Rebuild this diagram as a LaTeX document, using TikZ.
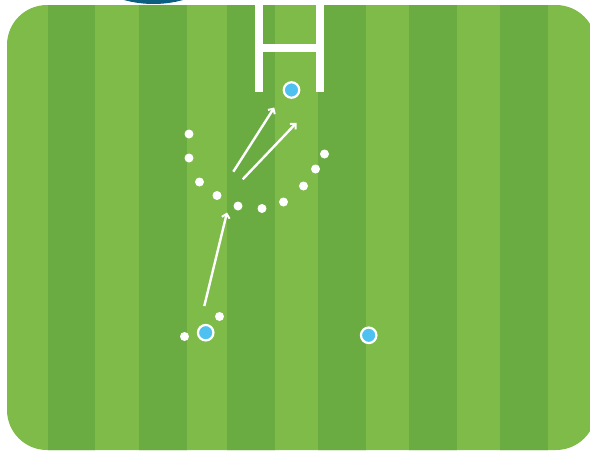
\documentclass[tikz,border=0pt]{standalone}
\usetikzlibrary{arrows.meta}
\definecolor{grasslight}{RGB}{126,187,72}
\definecolor{grassdark}{RGB}{106,172,66}
\definecolor{playerblue}{RGB}{79,193,240}
\definecolor{teal}{RGB}{10,94,128}
\tikzset{
  dotm/.style={circle,fill=white,inner sep=0pt,minimum size=9pt},
  player/.style={circle,fill=playerblue,draw=white,line width=2.2pt,inner sep=0pt,minimum size=15.5pt},
  runarrow/.style={draw=white,line width=2.4pt,-{Straight Barb[length=4pt,width=8pt,line width=2pt]}},
  post/.style={fill=white}
}
\begin{document}
\begin{tikzpicture}[x=1pt,y=-1pt]
\useasboundingbox (0,0) rectangle (590,451);
\clip (0,0) rectangle (590,451);
\fill[white] (0,0) rectangle (590,451);
% teal disc at top
\fill[teal] (153.5,-106) circle (110);
% field
\fill[grasslight,rounded corners=40pt] (7,5) rectangle (596,450);
\begin{scope}
\clip[rounded corners=40pt] (7,5) rectangle (596,450);
\foreach \a/\b in {48/95,139/187,227/275,318/366,409/457,500/548}{
  \fill[grassdark] (\a,0) rectangle (\b,451);
}
\end{scope}
% goal posts
\fill[post] (255,5) rectangle (263,92);
\fill[post] (316,5) rectangle (324,92);
\fill[post] (255,44) rectangle (324,52);
% defenders' dots
\node[dotm] (d1) at (189,134) {};
\node[dotm] (d2) at (189,158) {};
\node[dotm] (d3) at (199.5,182) {};
\node[dotm] (d4) at (217,195.5) {};
\node[dotm] (d5) at (238,206) {};
\node[dotm] (d6) at (262,208.5) {};
\node[dotm] (d7) at (283.5,202) {};
\node[dotm] (d8) at (303.5,186) {};
\node[dotm] (d9) at (315.5,169) {};
\node[dotm] (d10) at (324.5,154) {};
\node[dotm] (d11) at (219.5,316.5) {};
\node[dotm] (d12) at (184.5,336.5) {};
% players
\node[player] (p1) at (291.5,90) {};
\node[player] (p2) at (205.7,332.7) {};
\node[player] (p3) at (368.7,335.3) {};
% arrows
\coordinate (a1s) at (233.3,171.7);
\coordinate (a1e) at (274.3,107.5);
\coordinate (a2s) at (242.7,179.3);
\coordinate (a2e) at (296.5,122.8);
\coordinate (a3s) at (204.3,306);
\coordinate (a3e) at (227,212.5);
\draw[runarrow] (a1s) -- (a1e);
\draw[runarrow] (a2s) -- (a2e);
\draw[runarrow] (a3s) -- (a3e);
\end{tikzpicture}
\end{document}
